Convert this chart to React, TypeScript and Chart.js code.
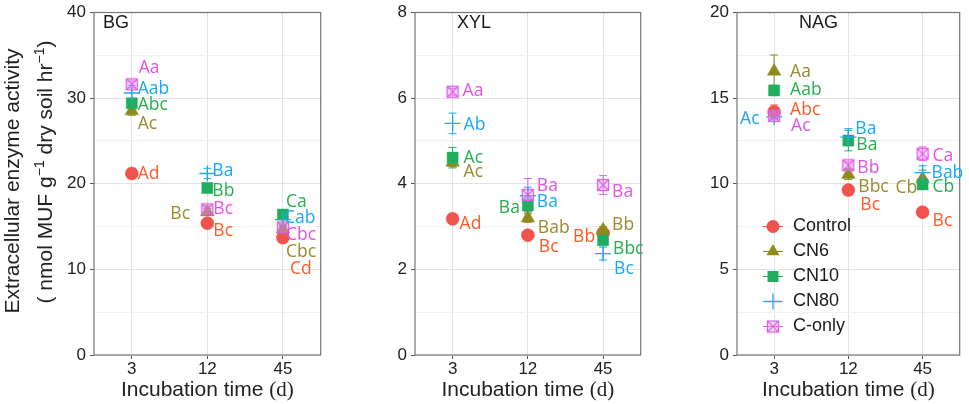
import React, { useEffect, useRef } from 'react';
import { Chart, registerables } from 'chart.js';
Chart.register(...registerables);

// ---------- data ----------
const categories = ['3', '12', '45'];
const seriesNames = ['Control', 'CN6', 'CN10', 'CN80', 'C-only'];

// BG (series order: Control, CN6, CN10, CN80, C-only; columns: 3, 12, 45 d)
const bgValues = [
  [21.2, 15.4, 13.7],
  [28.5, 16.7, 14.7],
  [29.4, 19.5, 16.4],
  [30.6, 21.2, 15.8],
  [31.6, 17.0, 14.9],
];
const bgErrors = [
  [0.6, 0.3, 0.3],
  [0.5, 0.4, 0.4],
  [0.4, 0.3, 0.3],
  [0.9, 0.6, 0.8],
  [0.4, 0.4, 0.4],
];
const bgLetters = [
  ['Ad', 'Bc', 'Cd'],
  ['Ac', 'Bc', 'Cbc'],
  ['Abc', 'Bb', 'Ca'],
  ['Aab', 'Ba', 'Cab'],
  ['Aa', 'Bc', 'Cbc'],
];
const bgLabelY = [
  [21.1, 14.45, 10.1],
  [27.0, 16.5, 12.06],
  [29.2, 19.2, 17.9],
  [31.1, 21.5, 16.0],
  [33.5, 17.1, 14.07],
];
const bgLabelDx = [
  [6, 6, 7],
  [6, -37, 3],
  [6, 5, 3],
  [6, 5, 1],
  [7, 6, 3],
];

// XYL
const xylValues = [
  [3.18, 2.8, 2.85],
  [4.5, 3.2, 2.92],
  [4.61, 3.49, 2.68],
  [5.41, 3.72, 2.37],
  [6.15, 3.74, 3.97],
];
const xylErrors = [
  [0.05, 0.05, 0.05],
  [0.1, 0.1, 0.08],
  [0.24, 0.15, 0.1],
  [0.24, 0.2, 0.15],
  [0.08, 0.38, 0.22],
];
const xylLetters = [
  ['Ad', 'Bc', 'Bb'],
  ['Ac', 'Bab', 'Bb'],
  ['Ac', 'Ba', 'Bbc'],
  ['Ab', 'Ba', 'Bc'],
  ['Aa', 'Ba', 'Ba'],
];
const xylLabelY = [
  [3.06, 2.52, 2.76],
  [4.28, 2.97, 3.03],
  [4.61, 3.43, 2.47],
  [5.37, 3.57, 2.02],
  [6.17, 3.95, 3.81],
];
const xylLabelDx = [
  [7, 11, -30],
  [11, 10, 9],
  [11, -29, 10],
  [11, 9, 11],
  [10, 9, 9],
];

// NAG
const nagValues = [
  [14.2, 9.63, 8.34],
  [16.57, 10.54, 10.3],
  [15.45, 12.52, 9.96],
  [13.9, 12.72, 10.65],
  [13.97, 11.08, 11.75],
];
const nagErrors = [
  [0.4, 0.2, 0.2],
  [0.95, 0.3, 0.5],
  [0.3, 0.6, 0.2],
  [0.25, 0.5, 0.4],
  [0.2, 0.2, 0.4],
];
const nagLetters = [
  ['Abc', 'Bc', 'Bc'],
  ['Aa', 'Bbc', 'Cb'],
  ['Aab', 'Ba', 'Cb'],
  ['Ac', 'Ba', 'Bab'],
  ['Ac', 'Bb', 'Ca'],
];
const nagLabelY = [
  [14.3, 8.77, 7.8],
  [16.53, 9.83, 9.73],
  [15.5, 12.27, 9.83],
  [13.77, 13.2, 10.65],
  [13.4, 10.92, 11.62],
];
const nagLabelDx = [
  [16, 12, 10],
  [16, 10, -27],
  [16, 8, 10],
  [-34, 7, 9],
  [17, 9, 10],
];

// ---------- styles ----------
const pointColors = ['#F0524D', '#8E8A1C', '#1FAE5E', '#22A8EE', '#DD5FE6'];
const labelColors = ['#FF5A26', '#9A8A30', '#24B04C', '#18A9F0', '#E352E3'];
const SANS = '"Liberation Sans", Arial, sans-serif';
const LABEL_FONT = '"Open Sans", sans-serif';

function makeBoxX(color: string): HTMLCanvasElement {
  const c = document.createElement('canvas');
  c.width = 14;
  c.height = 14;
  const g = c.getContext('2d')!;
  g.fillStyle = 'rgba(235,160,245,0.35)';
  g.fillRect(1.5, 1.5, 11, 11);
  g.strokeStyle = color;
  g.lineWidth = 1.3;
  g.strokeRect(1.5, 1.5, 11, 11);
  g.beginPath();
  g.moveTo(1.5, 1.5);
  g.lineTo(12.5, 12.5);
  g.moveTo(12.5, 1.5);
  g.lineTo(1.5, 12.5);
  g.stroke();
  return c;
}

function drawMarker(ctx: CanvasRenderingContext2D, i: number, x: number, y: number, box: HTMLCanvasElement) {
  const col = pointColors[i];
  ctx.save();
  ctx.fillStyle = col;
  ctx.strokeStyle = col;
  ctx.lineWidth = 1.3;
  if (i === 0) {
    ctx.beginPath();
    ctx.arc(x, y, 6.5, 0, Math.PI * 2);
    ctx.fill();
  } else if (i === 1) {
    const r = 7.5;
    ctx.beginPath();
    ctx.moveTo(x, y - r);
    ctx.lineTo(x + r * Math.sin((2 * Math.PI) / 3), y - r * Math.cos((2 * Math.PI) / 3));
    ctx.lineTo(x + r * Math.sin((4 * Math.PI) / 3), y - r * Math.cos((4 * Math.PI) / 3));
    ctx.closePath();
    ctx.fill();
  } else if (i === 2) {
    ctx.fillRect(x - 5.5, y - 5.5, 11, 11);
  } else if (i === 3) {
    ctx.beginPath();
    ctx.moveTo(x - 8, y);
    ctx.lineTo(x + 8, y);
    ctx.moveTo(x, y - 8);
    ctx.lineTo(x, y + 8);
    ctx.stroke();
  } else {
    ctx.drawImage(box, x - 7, y - 7);
  }
  ctx.restore();
}

type PanelProps = {
  values: number[][];
  errors: number[][];
  letters: string[][];
  labelY: number[][];
  labelDx: number[][];
  yMax: number;
  yMajor: number;
  yMinor: number;
  name: string;
  nameDx: number;
  left: number;
  width: number;
  axisWidth: number;
  rightPad: number;
  yTitle?: boolean;
  legend?: boolean;
};

function Panel(p: PanelProps) {
  const ref = useRef<HTMLCanvasElement | null>(null);
  useEffect(() => {
    if (!ref.current) return;
    const box = makeBoxX(pointColors[4]);
    const isMajor = (v: number) => Math.abs(v / p.yMajor - Math.round(v / p.yMajor)) < 1e-6;
    const styles: any[] = ['circle', 'triangle', 'rect', 'cross', box];
    const radii = [6.5, 7.8, 7.8, 8, 7];

    const datasets = seriesNames.map((n, i) => ({
      label: n,
      data: p.values[i],
      showLine: false,
      pointStyle: styles[i],
      pointRadius: radii[i],
      pointBackgroundColor: pointColors[i],
      pointBorderColor: pointColors[i],
      pointBorderWidth: i === 3 ? 1.3 : 0.5,
      backgroundColor: pointColors[i],
      borderColor: pointColors[i],
      order: 5 - i,
    }));

    const plugin = {
      id: 'panelExtras',
      beforeDatasetsDraw(chart: any) {
        const ctx = chart.ctx as CanvasRenderingContext2D;
        const xs = chart.scales.x;
        const ys = chart.scales.y;
        ctx.save();
        ctx.lineWidth = 1;
        p.values.forEach((row, i) => {
          ctx.strokeStyle = pointColors[i];
          row.forEach((v, j) => {
            const e = p.errors[i][j];
            const x = xs.getPixelForValue(j);
            const y1 = ys.getPixelForValue(v - e);
            const y2 = ys.getPixelForValue(v + e);
            ctx.beginPath();
            ctx.moveTo(x, y1);
            ctx.lineTo(x, y2);
            ctx.moveTo(x - 4, y1);
            ctx.lineTo(x + 4, y1);
            ctx.moveTo(x - 4, y2);
            ctx.lineTo(x + 4, y2);
            ctx.stroke();
          });
        });
        ctx.restore();
      },
      afterDatasetsDraw(chart: any) {
        const ctx = chart.ctx as CanvasRenderingContext2D;
        const xs = chart.scales.x;
        const ys = chart.scales.y;
        const a = chart.chartArea;
        ctx.save();
        // panel border
        ctx.strokeStyle = '#767676';
        ctx.lineWidth = 1.2;
        ctx.strokeRect(a.left, a.top, a.right - a.left, a.bottom - a.top);
        // significance letters
        ctx.font = `17.5px ${LABEL_FONT}`;
        ctx.textAlign = 'left';
        ctx.textBaseline = 'middle';
        p.letters.forEach((row, i) => {
          ctx.fillStyle = labelColors[i];
          row.forEach((t, j) => {
            const x = xs.getPixelForValue(j) + p.labelDx[i][j];
            const y = ys.getPixelForValue(p.labelY[i][j]);
            ctx.fillText(t, x, y);
          });
        });
        // panel name
        ctx.fillStyle = '#1a1a1a';
        ctx.font = `18px ${SANS}`;
        ctx.fillText(p.name, a.left + p.nameDx, 23);
        // x title
        const t1 = 'Incubation time ';
        const t2 = '(d)';
        ctx.font = `21px ${SANS}`;
        const w1 = ctx.measureText(t1).width;
        ctx.font = `21px "Liberation Serif", "DejaVu Serif", serif`;
        const w2 = ctx.measureText(t2).width;
        const cx = (a.left + a.right) / 2;
        const sx = cx - (w1 + w2) / 2;
        ctx.textBaseline = 'alphabetic';
        ctx.fillStyle = '#222';
        ctx.font = `21px ${SANS}`;
        ctx.fillText(t1, sx, 396);
        ctx.font = `21px "Liberation Serif", "DejaVu Serif", serif`;
        ctx.fillText(t2, sx + w1, 396);
        // y title
        if (p.yTitle) {
          ctx.save();
          ctx.translate(18.5, 181);
          ctx.rotate(-Math.PI / 2);
          ctx.textAlign = 'center';
          ctx.font = `21px ${SANS}`;
          ctx.fillText('Extracellular enzyme activity', 0, 0);
          ctx.restore();
          const segs = [
            { t: '( nmol MUF g', sup: false },
            { t: '\u22121', sup: true },
            { t: ' dry soil hr', sup: false },
            { t: '\u22121', sup: true },
            { t: ')', sup: false },
          ];
          const fontFor = (s: boolean) => (s ? `14px ${SANS}` : `21px ${SANS}`);
          let total = 0;
          segs.forEach((s) => {
            ctx.font = fontFor(s.sup);
            total += ctx.measureText(s.t).width;
          });
          ctx.save();
          ctx.translate(52, 172);
          ctx.rotate(-Math.PI / 2);
          ctx.textAlign = 'left';
          let px = -total / 2;
          segs.forEach((s) => {
            ctx.font = fontFor(s.sup);
            ctx.fillText(s.t, px, s.sup ? -8 : 0);
            px += ctx.measureText(s.t).width;
          });
          ctx.restore();
        }
        // legend
        if (p.legend) {
          ctx.font = `18px ${SANS}`;
          ctx.textBaseline = 'middle';
          ctx.textAlign = 'left';
          seriesNames.forEach((n, i) => {
            const y = a.top + 214 + 25 * i;
            const mx = a.left + 36;
            ctx.strokeStyle = pointColors[i];
            ctx.lineWidth = 1;
            ctx.beginPath();
            ctx.moveTo(mx - 10, y);
            ctx.lineTo(mx + 10, y);
            ctx.stroke();
            drawMarker(ctx, i, mx, y, box);
            ctx.fillStyle = '#1a1a1a';
            ctx.fillText(n, a.left + 56, y);
          });
        }
        ctx.restore();
      },
    };

    const chart = new Chart(ref.current, {
      type: 'line',
      data: { labels: categories, datasets: datasets as any },
      options: {
        animation: false,
        responsive: false,
        events: [],
        layout: { padding: { top: 9, right: p.rightPad, left: 0, bottom: 0 } },
        plugins: { legend: { display: false }, tooltip: { enabled: false } },
        scales: {
          x: {
            type: 'category',
            offset: true,
            grid: { offset: false, color: '#e2e2e2', tickColor: '#555', tickLength: 4 },
            border: { display: false },
            ticks: { color: '#222', padding: 2, font: { size: 17, family: SANS, lineHeight: 1 } },
            afterFit: (s: any) => {
              s.height = 49;
            },
          },
          y: {
            min: 0,
            max: p.yMax,
            grid: {
              color: (c: any) => (isMajor(c.tick.value) ? '#e2e2e2' : '#f0f0f0'),
              tickColor: (c: any) => (isMajor(c.tick.value) ? '#555' : 'rgba(0,0,0,0)'),
              tickLength: 4,
            },
            border: { display: false },
            ticks: {
              stepSize: p.yMinor,
              autoSkip: false,
              color: '#222',
              padding: 4,
              font: { size: 17, family: SANS, lineHeight: 1 },
              callback: (v: any) => (isMajor(Number(v)) ? String(v) : ''),
            },
            afterFit: (s: any) => {
              s.width = p.axisWidth;
            },
          },
        },
      },
      plugins: [plugin as any],
    });
    return () => chart.destroy();
  }, []);
  return (
    <canvas
      ref={ref}
      width={p.width}
      height={404}
      style={{ position: 'absolute', left: p.left, top: 0, width: p.width, height: 404 }}
    />
  );
}

export default function App() {
  return (
    <div style={{ position: 'fixed', left: 0, top: 0, width: 969, height: 404, background: '#fff', overflow: 'hidden' }}>
      <Panel
        values={bgValues}
        errors={bgErrors}
        letters={bgLetters}
        labelY={bgLabelY}
        labelDx={bgLabelDx}
        yMax={40}
        yMajor={10}
        yMinor={5}
        name="BG"
        nameDx={9}
        left={0}
        width={330}
        axisWidth={94}
        rightPad={7}
        yTitle
      />
      <Panel
        values={xylValues}
        errors={xylErrors}
        letters={xylLetters}
        labelY={xylLabelY}
        labelDx={xylLabelDx}
        yMax={8}
        yMajor={2}
        yMinor={1}
        name="XYL"
        nameDx={42}
        left={330}
        width={320}
        axisWidth={85}
        rightPad={5}
      />
      <Panel
        values={nagValues}
        errors={nagErrors}
        letters={nagLetters}
        labelY={nagLabelY}
        labelDx={nagLabelDx}
        yMax={20}
        yMajor={5}
        yMinor={2.5}
        name="NAG"
        nameDx={62}
        left={650}
        width={319}
        axisWidth={87}
        rightPad={2}
        legend
      />
    </div>
  );
}
